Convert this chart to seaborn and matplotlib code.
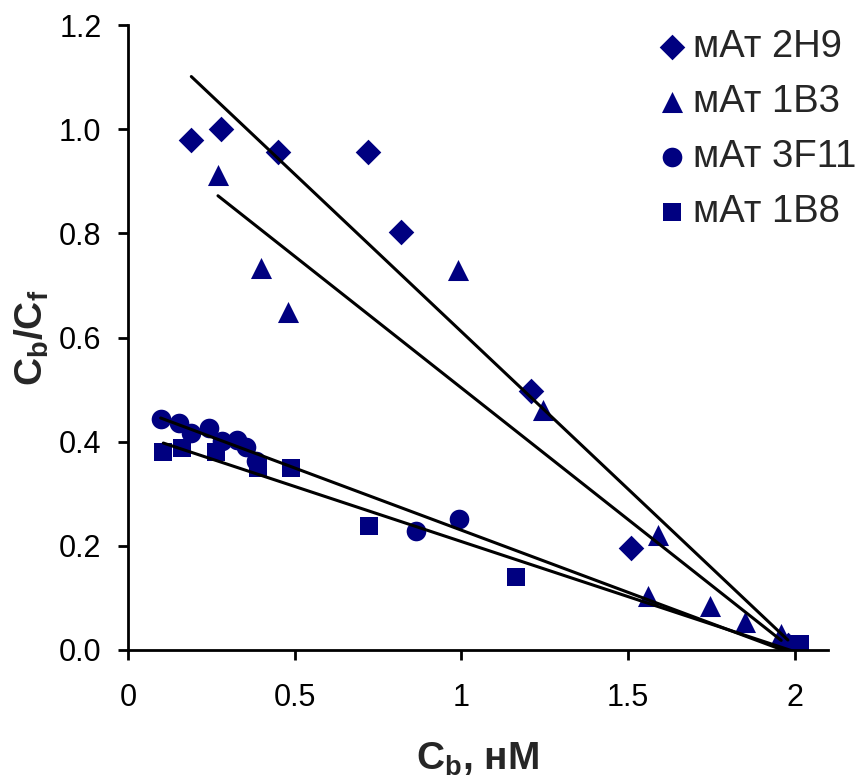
import matplotlib
matplotlib.use("Agg")
import matplotlib.pyplot as plt
import seaborn as sns
import pandas as pd
import numpy as np

# Data
series_names = ["мАт 2H9", "мАт 1B3", "мАт 3F11", "мАт 1B8"]

x_2h9 = [0.19, 0.28, 0.45, 0.72, 0.82, 1.21, 1.51, 1.98]
y_2h9 = [0.98, 1.00, 0.957, 0.957, 0.803, 0.498, 0.196, 0.01]

x_1b3 = [0.27, 0.40, 0.48, 0.99, 1.245, 1.59, 1.56, 1.745, 1.85, 1.96]
y_1b3 = [0.912, 0.733, 0.65, 0.73, 0.46, 0.221, 0.104, 0.085, 0.054, 0.03]

x_3f11 = [0.098, 0.154, 0.188, 0.244, 0.281, 0.326, 0.354, 0.384, 0.864, 0.993, 1.98]
y_3f11 = [0.443, 0.436, 0.417, 0.426, 0.402, 0.403, 0.389, 0.362, 0.228, 0.252, 0.0]

x_1b8 = [0.106, 0.161, 0.264, 0.389, 0.488, 0.723, 1.163, 2.015]
y_1b8 = [0.38, 0.387, 0.38, 0.349, 0.35, 0.238, 0.14, 0.012]

x_ticks = [0, 0.5, 1, 1.5, 2]
x_tick_labels = ["0", "0.5", "1", "1.5", "2"]
y_ticks = [0.0, 0.2, 0.4, 0.6, 0.8, 1.0, 1.2]
y_tick_labels = ["0.0", "0.2", "0.4", "0.6", "0.8", "1.0", "1.2"]

xs = [x_2h9, x_1b3, x_3f11, x_1b8]
ys = [y_2h9, y_1b3, y_3f11, y_1b8]

df = pd.concat(
    [pd.DataFrame({"x": x, "y": y, "series": name}) for name, x, y in zip(series_names, xs, ys)],
    ignore_index=True,
)

sns.set_theme(style="ticks")
plt.rcParams["font.family"] = ["Liberation Sans", "DejaVu Sans"]

navy = "#000080"
markers = {"мАт 2H9": "D", "мАт 1B3": "^", "мАт 3F11": "o", "мАт 1B8": "s"}
sizes_pt = {"мАт 2H9": 170, "мАт 1B3": 230, "мАт 3F11": 200, "мАт 1B8": 170}

fig = plt.figure(figsize=(8.63, 7.8), dpi=100)
ax = fig.add_axes([0.1483, 0.1667, 0.811, 0.801])

for name in series_names:
    sub = df[df["series"] == name]
    sns.regplot(data=sub, x="x", y="y", scatter=False, ci=None, truncate=True,
                ax=ax, color="black", line_kws={"linewidth": 2.2, "zorder": 3})

for name in series_names:
    sub = df[df["series"] == name]
    sns.scatterplot(data=sub, x="x", y="y", ax=ax, marker=markers[name],
                    s=sizes_pt[name], color=navy, edgecolor=navy, linewidth=0,
                    label=name, zorder=2)

ax.set_xlim(0, 2.1)
ax.set_ylim(0, 1.2)
ax.set_xticks(x_ticks)
ax.set_xticklabels(x_tick_labels)
ax.set_yticks(y_ticks)
ax.set_yticklabels(y_tick_labels)

for side in ["top", "right"]:
    ax.spines[side].set_visible(False)
for side in ["left", "bottom"]:
    ax.spines[side].set_linewidth(2)
    ax.spines[side].set_color("black")
ax.tick_params(axis="both", direction="out", length=7, width=2, colors="black",
               labelsize=22)
ax.tick_params(axis="x", pad=17)
ax.tick_params(axis="y", pad=12)

ax.set_xlabel("C$_\\mathregular{b}$, нМ", fontsize=28, fontweight="bold", labelpad=20)
ax.set_ylabel("C$_\\mathregular{b}$/C$_\\mathregular{f}$", fontsize=28, fontweight="bold", labelpad=6)

leg = ax.legend(loc="upper left", bbox_to_anchor=(0.755, 0.994), frameon=False,
                fontsize=27.5, handletextpad=0.15, labelspacing=0.5, borderaxespad=0,
                borderpad=0, handlelength=0.8)

fig.savefig("out.png", dpi=100, facecolor="white")
